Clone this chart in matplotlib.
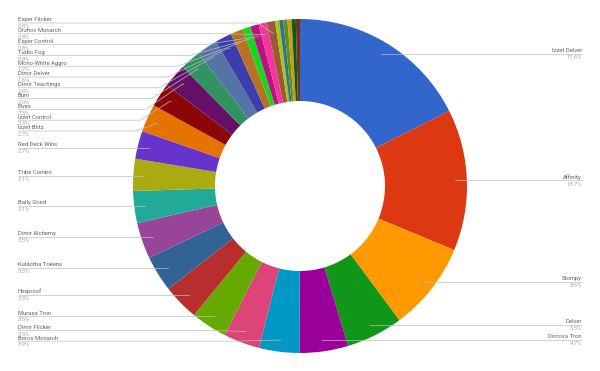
import numpy as np
import matplotlib
matplotlib.use("Agg")
from matplotlib import pyplot as plt

# deck shares (%) in clockwise order from 12 o'clock; "" = slice without a label
decks = ["Izzet Delver", "Affinity", "Stompy", "Delver", "Dinrova Tron",
         "Boros Monarch", "Dimir Flicker", "Murasa Tron", "Hexproof",
         "Kuldotha Tokens", "Dimir Alchemy", "Bally Gond", "Tribe Combo",
         "Red Deck Wins", "Izzet Blitz", "Izzet Control", "Elves", "Burn",
         "Dimir Teachings", "Dimir Delver", "Mono-White Aggro", "Turbo Fog",
         "Esper Control", "Orzhov Monarch", "Esper Flicker",
         "", "", "", "", "", ""]
shares = [17.6, 13.7, 8.6, 5.5, 4.7,
          3.9, 3.5, 3.5, 3.5,
          3.5, 3.5, 3.1, 3.1,
          2.7, 2.7, 2.3, 2.3, 2.0,
          2.0, 1.6, 1.2, 0.8,
          0.8, 0.8, 0.8,
          0.4, 0.4, 0.4, 0.4, 0.4, 0.4]

palette = ["#3366cc", "#dc3912", "#ff9900", "#109618", "#990099", "#0099c6",
           "#dd4477", "#66aa00", "#b82e2e", "#316395", "#994499", "#22aa99",
           "#aaaa11", "#6633cc", "#e67300", "#8b0707", "#651067", "#329262",
           "#5574a6", "#3b3eac", "#b77322", "#16d620", "#b91383", "#f4359e",
           "#9c5935", "#a9c413", "#2a778d", "#668d1c", "#bea413", "#0c5922",
           "#743411"]

W, H = 600, 371
CX, CY = 300, 186      # pixel coords, y pointing down
R_OUT, R_IN = 167, 85
R_DOT = 0.93 * R_OUT
GAP = 10.8
TOP, BOTTOM = 23, 345

plt.rcParams['font.family'] = ['Roboto', 'DejaVu Sans']

fig = plt.figure(figsize=(6, 3.71), dpi=100)
ax = fig.add_axes([0, 0, 1, 1])

def Y(y):
    return H - y

ax.pie(shares, colors=palette[:len(shares)], startangle=90, counterclock=False,
       center=(CX, Y(CY)), radius=R_OUT,
       wedgeprops=dict(width=R_OUT - R_IN, linewidth=0))

# label anchors at slice middles
vals = np.array(shares) / sum(shares)
mids = (np.cumsum(vals) - vals / 2) * 2 * np.pi
sides = {"right": [], "left": []}
for i, name in enumerate(decks):
    if not name:
        continue
    th = mids[i]
    side = "right" if th < np.pi else "left"
    sides[side].append([CY - R_DOT * np.cos(th), i])

def spread(items):
    # push overlapping labels apart symmetrically, keep inside the bounds
    items.sort()
    ys = np.array([it[0] for it in items], dtype=float)
    for _ in range(600):
        for k in range(len(ys) - 1):
            d = ys[k + 1] - ys[k]
            if d < GAP:
                o = (GAP - d) / 2
                ys[k] -= o
                ys[k + 1] += o
        ys = np.clip(ys, TOP, BOTTOM)
    return [(y, it[1]) for y, it in zip(ys, items)]

line_col = "#bdbdbd"
for side, items in sides.items():
    for ly, i in spread(items):
        th = mids[i]
        ax_ = CX + R_DOT * np.sin(th)
        ay_ = CY - R_DOT * np.cos(th)
        dy = ly - CY
        reach = np.sqrt(max(R_OUT ** 2 - dy ** 2, 0)) + 6
        if side == "right":
            x0 = 582
            xe = max(CX + reach, ax_)
            ha = "right"
        else:
            x0 = 18
            xe = min(CX - reach, ax_)
            ha = "left"
        if abs(ly - ay_) < 0.5:
            xs, ys = [x0, ax_], [ly, ly]
        else:
            xs, ys = [x0, xe, ax_], [ly, ly, ay_]
        ax.plot(xs, [Y(v) for v in ys], color=line_col,
                lw=0.5, solid_capstyle="butt")
        ax.plot(ax_, Y(ay_), "o", ms=1.1, color="#888888", mec="none")
        ax.text(x0, Y(ly - 0.6), decks[i], ha=ha, va="bottom",
                fontsize=4.2, color="#616161")
        ax.text(x0, Y(ly + 1.2), f"{shares[i]:.1f}%", ha=ha, va="top",
                fontsize=4.2, color="#a8a8a8")

ax.set_xlim(0, W)
ax.set_ylim(0, H)
ax.set_aspect("equal")
ax.axis("off")

plt.savefig("out.png", dpi=100, facecolor="white")
plt.close()
